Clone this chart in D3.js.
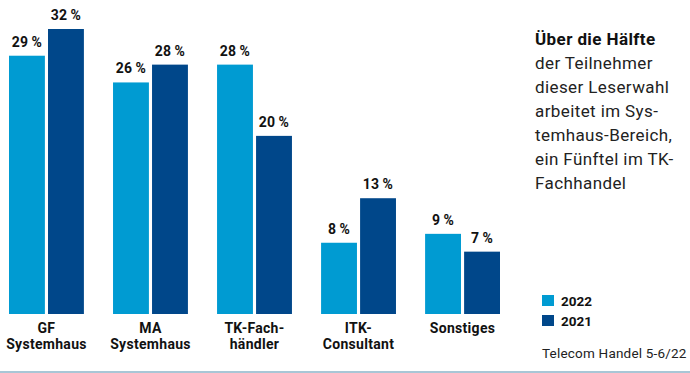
<!DOCTYPE html>
<html>
<head>
<meta charset="utf-8">
<script src="https://cdn.jsdelivr.net/npm/d3@7"></script>
<style>
  body { margin: 0; background: #fff; }
  svg { display: block; font-family: Roboto, "DejaVu Sans", sans-serif; }
</style>
</head>
<body>
<div id="chart"></div>
<script>
// Daten aus der Grafik
var categories = ['GF|Systemhaus', 'MA|Systemhaus', 'TK-Fach-|händler', 'ITK-|Consultant', 'Sonstiges'];
var years = ['2022', '2021'];
var values2022 = [29, 26, 28, 8, 9];
var values2021 = [32, 28, 20, 13, 7];
var textLines = ['der Teilnehmer', 'dieser Leserwahl', 'arbeitet im Sys-', 'temhaus-Bereich,',
                 'ein Fünftel im TK-', 'Fachhandel'];

var WIDTH = 690,
    HEIGHT = 373;

var COLORS = {'2022': '#009bd2', '2021': '#00478a'};

var svg = d3.select('#chart').append('svg')
            .attr('width', WIDTH)
            .attr('height', HEIGHT);

var data = categories.map((c, i) => ({cat: c, '2022': values2022[i], '2021': values2021[i]}));

var x0 = d3.scaleBand().domain(categories).range([9, 500]).paddingInner(0.28).paddingOuter(0);
var x1 = d3.scaleBand().domain(years).range([0, x0.bandwidth()]).paddingInner(0.08);
var y = d3.scaleLinear().domain([0, 32]).range([314, 29]);

var groups = svg.selectAll('g.group')
    .data(data).enter()
    .append('g')
    .attr('class', 'group')
    .attr('transform', d => `translate(${x0(d.cat)},0)`);

groups.selectAll('rect')
    .data(d => years.map(k => ({year: k, value: d[k]})))
    .enter().append('rect')
    .attr('x', d => x1(d.year))
    .attr('y', d => y(d.value))
    .attr('width', x1.bandwidth())
    .attr('height', d => y(0) - y(d.value))
    .attr('fill', d => COLORS[d.year]);

groups.selectAll('text.val')
    .data(d => years.map(k => ({year: k, value: d[k]})))
    .enter().append('text')
    .attr('class', 'val')
    .attr('x', d => x1(d.year) + x1.bandwidth() / 2)
    .attr('y', d => y(d.value) - 9)
    .attr('text-anchor', 'middle')
    .attr('font-size', 14)
    .attr('font-weight', 'bold')
    .attr('letter-spacing', 0.3)
    .attr('fill', '#111')
    .text(d => d.value + '\u2009%');

// Kategorien (zweizeilig)
groups.append('text')
    .attr('text-anchor', 'middle')
    .attr('font-size', 14)
    .attr('font-weight', 'bold')
    .attr('letter-spacing', 0.3)
    .attr('fill', '#111')
    .selectAll('tspan')
    .data(d => d.cat.split('|'))
    .enter().append('tspan')
    .attr('x', x0.bandwidth() / 2)
    .attr('y', (d, i) => 333 + i * 16)
    .text(d => d);

// Textblock rechts
var note = svg.append('text')
    .attr('x', 535)
    .attr('font-size', 17)
    .attr('letter-spacing', 0.4)
    .attr('fill', '#222');

note.append('tspan')
    .attr('x', 535).attr('y', 45)
    .attr('font-weight', 'bold')
    .attr('fill', '#111')
    .text('Über die Hälfte');

note.selectAll('tspan.line')
    .data(textLines).enter()
    .append('tspan')
    .attr('class', 'line')
    .attr('x', 535)
    .attr('y', (d, i) => 69 + i * 24)
    .text(d => d);

// Legende
var legend = svg.selectAll('g.legend')
    .data(years).enter()
    .append('g')
    .attr('class', 'legend')
    .attr('transform', (d, i) => `translate(542,${295 + i * 20})`);

legend.append('rect')
    .attr('width', 12)
    .attr('height', 11)
    .attr('fill', d => COLORS[d]);

legend.append('text')
    .attr('x', 19)
    .attr('y', 11)
    .attr('font-size', 13.5)
    .attr('font-weight', 'bold')
    .attr('fill', '#111')
    .text(d => d);

svg.append('text')
    .attr('x', 542)
    .attr('y', 358)
    .attr('font-size', 13.5)
    .attr('letter-spacing', 0.2)
    .attr('fill', '#222')
    .text('Telecom Handel 5-6/22');

svg.append('line')
    .attr('x1', 0).attr('x2', WIDTH)
    .attr('y1', 372).attr('y2', 372)
    .attr('stroke', '#a9c6d6')
    .attr('stroke-width', 2);
</script>
</body>
</html>
